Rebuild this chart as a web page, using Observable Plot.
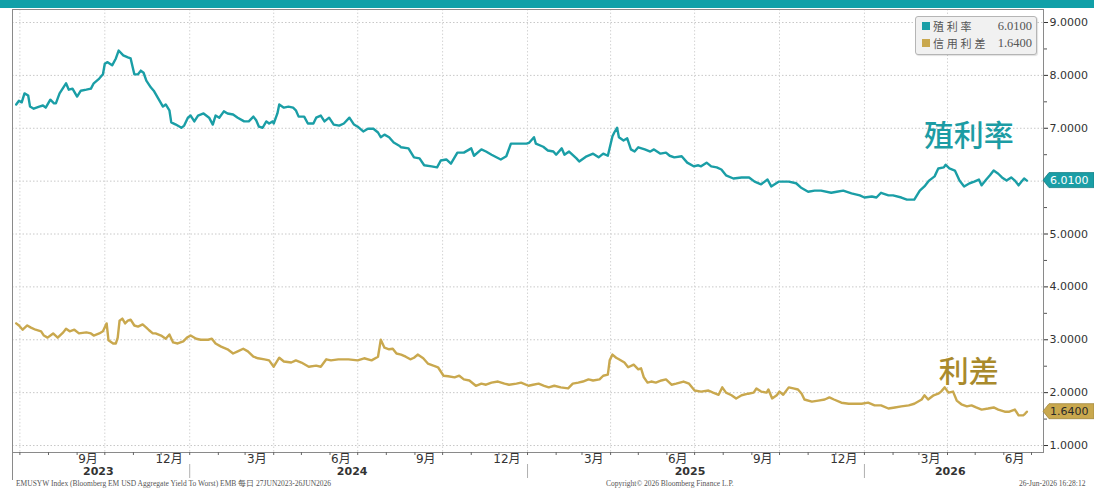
<!DOCTYPE html>
<html><head><meta charset="utf-8">
<script src="https://cdn.jsdelivr.net/npm/d3@7"></script>
<script src="https://cdn.jsdelivr.net/npm/@observablehq/plot@0.6"></script>
<style>
body{margin:0;background:#fff;}
#wrap{position:relative;width:1094px;height:489px;overflow:hidden;background:#fff;}
#topbar{position:absolute;left:0;top:0;width:1094px;height:8px;background:#11a0a8;}
#legend{position:absolute;left:915px;top:16px;width:120px;height:37px;background:#f1f1f1;border:1px solid #b5b5b5;border-radius:3px;box-shadow:1px 1px 1px rgba(0,0,0,0.12);font-size:12px;color:#555;}
.lrow{position:absolute;left:6px;height:12px;line-height:12px;width:112px;}
.sw{position:absolute;left:0;top:2px;width:8px;height:8px;}
.lname{position:absolute;display:block;height:12px;left:11px;top:0;font-family:"Noto Sans CJK TC";letter-spacing:2.8px;font-size:11px;line-height:12px;white-space:nowrap;}
.lval{position:absolute;display:block;height:12px;right:2px;top:0;font-family:"Liberation Serif",serif;font-size:12.5px;line-height:12px;white-space:nowrap;}
.foot{position:absolute;top:479px;font-family:"Liberation Serif",serif;font-size:7.5px;color:#555;white-space:nowrap;line-height:10px;}
</style></head><body>
<div id="wrap">
<div id="chart"></div>
<div id="topbar"></div>
<div id="legend">
  <div class="lrow" style="top:3px"><div class="sw" id="sw1"></div><span class="lname" id="ln1"></span><span class="lval" id="lv1"></span></div>
  <div class="lrow" style="top:20px"><div class="sw" id="sw2"></div><span class="lname" id="ln2"></span><span class="lval" id="lv2"></span></div>
</div>
<div class="foot" id="f1" style="left:16px"></div>
<div class="foot" id="f2" style="left:606px"></div>
<div class="foot" id="f3" style="left:1019px"></div>
</div>
<script>
// ---- data ----
const seriesNames = ["殖利率", "信用利差"];
const annotationTexts = ["殖利率", "利差"];
const yieldDates = ["2023-06-27","2023-06-30","2023-07-03","2023-07-06","2023-07-10","2023-07-12","2023-07-16","2023-07-22","2023-07-26","2023-07-29","2023-08-03","2023-08-07","2023-08-09","2023-08-13","2023-08-20","2023-08-23","2023-08-27","2023-09-01","2023-09-05","2023-09-11","2023-09-16","2023-09-19","2023-09-25","2023-09-29","2023-10-01","2023-10-04","2023-10-09","2023-10-13","2023-10-16","2023-10-21","2023-10-26","2023-10-29","2023-11-02","2023-11-06","2023-11-09","2023-11-12","2023-11-15","2023-11-20","2023-11-23","2023-11-28","2023-12-03","2023-12-06","2023-12-10","2023-12-12","2023-12-17","2023-12-23","2023-12-26","2023-12-30","2024-01-02","2024-01-06","2024-01-10","2024-01-16","2024-01-22","2024-01-26","2024-01-29","2024-02-02","2024-02-07","2024-02-11","2024-02-17","2024-02-22","2024-02-29","2024-03-05","2024-03-10","2024-03-13","2024-03-16","2024-03-20","2024-03-24","2024-03-27","2024-03-31","2024-04-01","2024-04-05","2024-04-07","2024-04-12","2024-04-17","2024-04-22","2024-04-25","2024-04-28","2024-05-04","2024-05-08","2024-05-14","2024-05-17","2024-05-22","2024-05-26","2024-05-31","2024-06-05","2024-06-11","2024-06-16","2024-06-22","2024-06-27","2024-07-01","2024-07-07","2024-07-12","2024-07-18","2024-07-23","2024-07-26","2024-07-30","2024-08-04","2024-08-09","2024-08-15","2024-08-17","2024-08-25","2024-08-31","2024-09-06","2024-09-11","2024-09-19","2024-09-25","2024-09-29","2024-10-05","2024-10-10","2024-10-17","2024-10-24","2024-11-01","2024-11-04","2024-11-12","2024-11-17","2024-11-23","2024-12-03","2024-12-09","2024-12-14","2024-12-20","2024-12-31","2025-01-03","2025-01-08","2025-01-10","2025-01-18","2025-01-23","2025-01-29","2025-02-01","2025-02-07","2025-02-10","2025-02-15","2025-02-23","2025-02-26","2025-03-06","2025-03-13","2025-03-19","2025-03-24","2025-03-29","2025-04-03","2025-04-05","2025-04-08","2025-04-10","2025-04-15","2025-04-19","2025-04-23","2025-04-27","2025-05-01","2025-05-08","2025-05-14","2025-05-18","2025-05-25","2025-05-31","2025-06-04","2025-06-09","2025-06-17","2025-06-23","2025-06-30","2025-07-05","2025-07-08","2025-07-14","2025-07-19","2025-07-25","2025-07-30","2025-08-04","2025-08-12","2025-08-21","2025-08-29","2025-09-04","2025-09-11","2025-09-18","2025-09-22","2025-09-30","2025-10-11","2025-10-19","2025-10-24","2025-11-01","2025-11-08","2025-11-15","2025-11-26","2025-12-02","2025-12-09","2025-12-18","2025-12-27","2026-01-01","2026-01-09","2026-01-14","2026-01-19","2026-01-27","2026-02-01","2026-02-10","2026-02-16","2026-02-24","2026-03-02","2026-03-07","2026-03-12","2026-03-18","2026-03-22","2026-03-28","2026-03-30","2026-04-03","2026-04-09","2026-04-14","2026-04-19","2026-04-25","2026-04-30","2026-05-05","2026-05-08","2026-05-13","2026-05-17","2026-05-21","2026-05-26","2026-05-30","2026-06-04","2026-06-09","2026-06-13","2026-06-17","2026-06-20","2026-06-23","2026-06-26"];
const yieldVals = [7.45,7.52,7.49,7.66,7.62,7.41,7.37,7.41,7.43,7.39,7.54,7.47,7.47,7.66,7.85,7.73,7.75,7.60,7.71,7.73,7.75,7.85,7.94,8.02,8.22,8.25,8.19,8.32,8.47,8.38,8.34,8.32,8.02,8.02,8.09,8.05,7.90,7.77,7.71,7.56,7.41,7.45,7.34,7.11,7.07,7.01,7.05,7.20,7.24,7.13,7.24,7.28,7.20,7.07,7.24,7.20,7.32,7.28,7.26,7.20,7.13,7.13,7.22,7.15,7.03,7.01,7.13,7.09,7.13,7.09,7.28,7.45,7.39,7.41,7.39,7.34,7.22,7.22,7.09,7.09,7.20,7.24,7.13,7.20,7.07,7.05,7.09,7.20,7.07,7.03,6.94,6.99,6.99,6.92,6.83,6.88,6.83,6.73,6.67,6.64,6.62,6.45,6.43,6.30,6.28,6.26,6.39,6.41,6.33,6.54,6.54,6.62,6.48,6.60,6.56,6.50,6.41,6.47,6.71,6.71,6.71,6.73,6.83,6.71,6.65,6.58,6.56,6.50,6.62,6.50,6.56,6.43,6.37,6.47,6.52,6.45,6.52,6.48,6.85,6.92,7.01,6.83,6.77,6.81,6.60,6.56,6.64,6.60,6.56,6.60,6.52,6.54,6.48,6.45,6.47,6.35,6.28,6.30,6.28,6.35,6.28,6.26,6.22,6.11,6.05,6.07,6.07,5.99,5.94,6.03,5.90,5.99,5.99,5.96,5.88,5.80,5.82,5.82,5.78,5.80,5.82,5.77,5.73,5.69,5.71,5.69,5.78,5.73,5.73,5.69,5.65,5.65,5.82,5.90,6.01,6.09,6.24,6.26,6.31,6.24,6.20,6.01,5.90,5.96,5.99,6.03,5.92,6.03,6.11,6.20,6.14,6.07,6.01,6.07,6.01,5.92,5.99,6.05,6.01];
const spreadDates = ["2023-06-27","2023-06-30","2023-07-04","2023-07-09","2023-07-13","2023-07-18","2023-07-24","2023-07-27","2023-07-31","2023-08-06","2023-08-11","2023-08-17","2023-08-20","2023-08-24","2023-08-29","2023-09-03","2023-09-11","2023-09-16","2023-09-19","2023-09-25","2023-09-29","2023-10-03","2023-10-05","2023-10-10","2023-10-13","2023-10-15","2023-10-17","2023-10-20","2023-10-23","2023-10-26","2023-10-29","2023-11-02","2023-11-06","2023-11-11","2023-11-15","2023-11-18","2023-11-22","2023-11-25","2023-12-01","2023-12-06","2023-12-10","2023-12-14","2023-12-19","2023-12-25","2023-12-29","2024-01-02","2024-01-08","2024-01-13","2024-01-21","2024-01-25","2024-01-29","2024-02-04","2024-02-11","2024-02-17","2024-02-22","2024-02-28","2024-03-04","2024-03-10","2024-03-15","2024-03-22","2024-03-27","2024-04-01","2024-04-07","2024-04-12","2024-04-20","2024-04-25","2024-05-01","2024-05-09","2024-05-17","2024-05-22","2024-05-28","2024-06-02","2024-06-10","2024-06-21","2024-07-01","2024-07-08","2024-07-16","2024-07-23","2024-07-26","2024-07-30","2024-08-04","2024-08-08","2024-08-12","2024-08-17","2024-08-22","2024-08-27","2024-08-31","2024-09-04","2024-09-10","2024-09-15","2024-09-21","2024-09-26","2024-10-02","2024-10-07","2024-10-14","2024-10-19","2024-10-24","2024-10-30","2024-11-06","2024-11-12","2024-11-17","2024-11-23","2024-11-30","2024-12-07","2024-12-12","2024-12-20","2024-12-25","2025-01-02","2025-01-07","2025-01-13","2025-01-19","2025-01-24","2025-01-30","2025-02-06","2025-02-14","2025-02-19","2025-02-25","2025-03-02","2025-03-08","2025-03-13","2025-03-20","2025-03-24","2025-03-29","2025-03-31","2025-04-03","2025-04-07","2025-04-10","2025-04-16","2025-04-20","2025-04-26","2025-05-01","2025-05-04","2025-05-07","2025-05-11","2025-05-15","2025-05-20","2025-05-26","2025-05-31","2025-06-06","2025-06-11","2025-06-19","2025-06-25","2025-07-01","2025-07-08","2025-07-16","2025-07-21","2025-07-27","2025-07-31","2025-08-04","2025-08-10","2025-08-15","2025-08-21","2025-08-28","2025-09-03","2025-09-06","2025-09-11","2025-09-17","2025-09-19","2025-09-23","2025-09-28","2025-10-01","2025-10-05","2025-10-11","2025-10-16","2025-10-21","2025-10-25","2025-10-28","2025-11-05","2025-11-12","2025-11-19","2025-11-24","2025-11-29","2025-12-07","2025-12-15","2025-12-21","2025-12-29","2026-01-05","2026-01-12","2026-01-19","2026-01-27","2026-02-03","2026-02-10","2026-02-18","2026-02-24","2026-03-04","2026-03-07","2026-03-11","2026-03-17","2026-03-22","2026-03-25","2026-03-29","2026-04-02","2026-04-07","2026-04-11","2026-04-16","2026-04-22","2026-04-27","2026-05-02","2026-05-08","2026-05-15","2026-05-21","2026-05-26","2026-06-02","2026-06-07","2026-06-13","2026-06-17","2026-06-22","2026-06-24","2026-06-26"];
const spreadVals = [3.31,3.27,3.19,3.27,3.23,3.19,3.16,3.08,3.04,3.12,3.04,3.14,3.21,3.16,3.19,3.12,3.14,3.12,3.08,3.12,3.16,3.31,2.99,2.93,2.93,3.04,3.36,3.40,3.31,3.36,3.38,3.27,3.25,3.29,3.23,3.18,3.12,3.12,3.08,3.02,3.10,2.95,2.93,2.97,3.04,3.08,3.02,3.00,3.00,3.02,2.93,2.87,2.82,2.74,2.78,2.83,2.78,2.68,2.65,2.63,2.61,2.49,2.66,2.59,2.57,2.61,2.57,2.49,2.51,2.49,2.63,2.61,2.63,2.63,2.61,2.65,2.61,2.68,3.00,2.85,2.82,2.83,2.74,2.72,2.68,2.63,2.66,2.72,2.65,2.55,2.51,2.48,2.32,2.31,2.29,2.32,2.25,2.23,2.13,2.17,2.15,2.19,2.21,2.17,2.15,2.17,2.19,2.13,2.15,2.17,2.13,2.10,2.13,2.10,2.08,2.17,2.19,2.21,2.25,2.23,2.25,2.32,2.34,2.61,2.72,2.66,2.63,2.57,2.48,2.53,2.44,2.46,2.29,2.19,2.21,2.19,2.23,2.25,2.15,2.17,2.21,2.17,2.04,2.02,2.04,2.00,1.96,2.10,2.00,1.95,1.89,1.95,1.98,2.00,2.08,2.02,2.00,2.06,1.89,1.95,2.02,1.96,2.10,2.08,2.06,1.98,1.87,1.83,1.85,1.87,1.91,1.87,1.81,1.79,1.79,1.79,1.81,1.76,1.76,1.70,1.72,1.74,1.76,1.79,1.87,1.95,1.87,1.95,1.98,2.02,2.10,2.00,2.02,1.85,1.78,1.74,1.76,1.72,1.68,1.70,1.72,1.68,1.64,1.64,1.68,1.57,1.57,1.60,1.64];
const yTicks = [1,2,3,4,5,6,7,8,9];
const yMinorTicks = [1.5,2.5,3.5,4.5,5.5,6.5,7.5,8.5];
const quarterStarts = ["2023-07-01","2023-10-01","2024-01-01","2024-04-01","2024-07-01","2024-10-01","2025-01-01","2025-04-01","2025-07-01","2025-10-01","2026-01-01","2026-04-01"];
const monthLabelEnds = ["2023-10-01","2024-01-01","2024-04-01","2024-07-01","2024-10-01","2025-01-01","2025-04-01","2025-07-01","2025-10-01","2026-01-01","2026-04-01","2026-07-01"];
const monthLabelTexts = ["9月","12月","3月","6月","9月","12月","3月","6月","9月","12月","3月","6月"];
const yearStarts = ["2024-01-01","2025-01-01","2026-01-01"];
const yearLabelDates = ["2023-09-24","2024-06-25","2025-06-26","2026-04-04"];
const yearLabelTexts = ["2023","2024","2025","2026"];
const annotationDates = ["2026-04-24","2026-04-24"];
const annotationVals = [6.84, 2.38];
const footerTexts = ["EMUSYW Index (Bloomberg EM USD Aggregate Yield To Worst) EMB 每日 27JUN2023-26JUN2026","Copyright© 2026 Bloomberg Finance L.P.","26-Jun-2026 16:28:12"];
const xDomain = ["2023-06-23","2026-07-14"];
const yDomain = [0.868, 9.246];

// ---- build ----
const parse = d3.utcParse("%Y-%m-%d");
const fmt = d3.format(".4f");
const teal = "#1a9ea6", gold = "#c9a84e";
const yieldData = yieldDates.map((d,i)=>({date:parse(d), value:yieldVals[i]}));
const spreadData = spreadDates.map((d,i)=>({date:parse(d), value:spreadVals[i]}));
const monthLabels = monthLabelEnds.map((d,i)=>({date:parse(d), label:monthLabelTexts[i]}));
const yearLabels = yearLabelDates.map((d,i)=>({date:parse(d), label:yearLabelTexts[i]}));
const annotations = annotationDates.map((d,i)=>({date:parse(d), value:annotationVals[i], text:annotationTexts[i], color: i===0 ? "#1c9ca4" : "#a98a2c"}));
const monthStarts = d3.utcMonth.range(parse("2023-07-01"), parse("2026-07-02"));
const font = "'DejaVu Sans','Noto Sans CJK TC',sans-serif";

const plot = Plot.plot({
  width: 1094, height: 489,
  marginTop: 9, marginBottom: 37, marginLeft: 12, marginRight: 51,
  style: {fontFamily: font, fontSize: "11px", color: "#333", background: "transparent", overflow: "visible"},
  x: {type: "utc", domain: xDomain.map(parse)},
  y: {domain: yDomain},
  marks: [
    Plot.ruleY(yTicks, {stroke: "#c8c8c8", strokeDasharray: "1.5,2"}),
    Plot.ruleX(quarterStarts.map(parse), {stroke: "#d4d4d4", strokeDasharray: "1.5,2"}),
    Plot.frame({stroke: "#8a8a8a"}),
    Plot.ruleX([parse(xDomain[0])], {stroke: "#8a8a8a", insetBottom: -28}),
    Plot.axisY({anchor: "right", ticks: yTicks, tickFormat: fmt, tickSize: 4, tickPadding: 2, fontSize: 11, label: null, stroke: "#333"}),
    Plot.axisY({anchor: "right", ticks: yMinorTicks, tickFormat: () => "", tickSize: 3, label: null, stroke: "#555"}),
    Plot.axisX({ticks: monthStarts, tickFormat: () => "", tickSize: 3, label: null, stroke: "#666"}),
    Plot.ruleX(yearStarts.map(parse), {stroke: "#b0b0b0", insetTop: 455, insetBottom: -26}),
    Plot.text(monthLabels, {x: "date", text: "label", frameAnchor: "bottom", dy: 10, dx: -7, textAnchor: "end", fontSize: 12, fill: "#333"}),
    Plot.text(yearLabels, {x: "date", text: "label", frameAnchor: "bottom", dy: 22, fontSize: 11, fontWeight: "bold", fill: "#333"}),
    Plot.line(spreadData, {x: "date", y: "value", stroke: gold, strokeWidth: 2.4, strokeLinejoin: "round"}),
    Plot.line(yieldData, {x: "date", y: "value", stroke: teal, strokeWidth: 2.4, strokeLinejoin: "round"}),
    Plot.text(annotations, {x: "date", y: "value", text: "text", fill: "color", fontSize: 30, fontWeight: 500, fontFamily: "'Noto Sans CJK TC'"})
  ]
});
document.getElementById("chart").appendChild(plot);

// value tags on the right axis, positioned by the plot's own scales
const sy = plot.scale("y"), sx = plot.scale("x");
const xr = sx.range[1];
const svg = d3.select(plot);
const tags = [
  {v: yieldVals[yieldVals.length-1], fill: teal, text: "#fff"},
  {v: spreadVals[spreadVals.length-1], fill: gold, text: "#2a2a2a"}
];
for (const t of tags) {
  const y = sy.apply(t.v);
  const g = svg.append("g");
  g.append("path")
    .attr("d", `M${xr},${y} L${xr+6},${y-7.5} L1094,${y-7.5} L1094,${y+7.5} L${xr+6},${y+7.5} Z`)
    .attr("fill", t.fill).attr("stroke", d3.color(t.fill).darker(0.6)).attr("stroke-width", 0.8);
  g.append("text").attr("x", xr+7).attr("y", y).attr("dy", "0.36em")
    .attr("text-anchor", "start")
    .attr("font-family", font).attr("font-size", 11).attr("fill", t.text).text(fmt(t.v));
}

// legend
document.getElementById("sw1").style.background = teal;
document.getElementById("sw2").style.background = gold;
document.getElementById("ln1").textContent = seriesNames[0];
document.getElementById("ln2").textContent = seriesNames[1];
document.getElementById("lv1").textContent = fmt(yieldVals[yieldVals.length-1]);
document.getElementById("lv2").textContent = fmt(spreadVals[spreadVals.length-1]);
// footer
document.getElementById("f1").textContent = footerTexts[0];
document.getElementById("f2").textContent = footerTexts[1];
document.getElementById("f3").textContent = footerTexts[2];
</script>
</body></html>
